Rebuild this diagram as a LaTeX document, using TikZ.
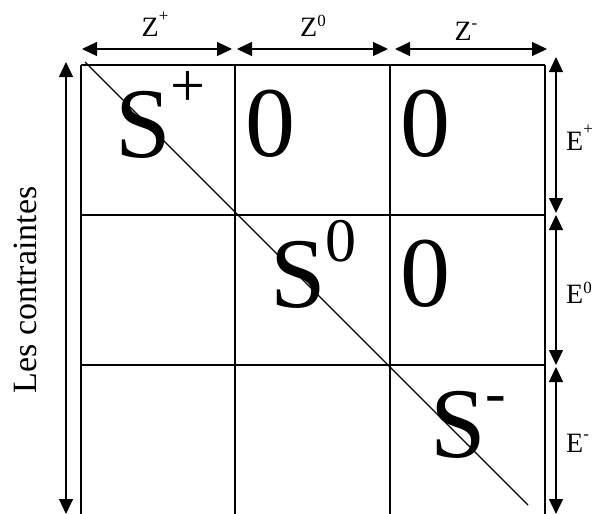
\documentclass[tikz,border=0pt]{standalone}
\usepackage{fontspec}
\setmainfont{Liberation Serif}
\usepackage{tikz}
\usetikzlibrary{arrows.meta}
\tikzset{
  gridline/.style = {line width=1.8pt, black},
  diagline/.style = {line width=1.2pt, black},
  dimarrow/.style = {{Triangle[length=15pt,width=14pt]}-{Triangle[length=15pt,width=14pt]},
                     line width=1.3pt, black},
  bigsym/.style   = {anchor=base west, inner sep=0pt, font=\fontsize{100}{100}\selectfont},
  toplbl/.style   = {anchor=base, inner sep=0pt, font=\fontsize{28}{28}\selectfont},
  sidelbl/.style  = {anchor=base west, inner sep=0pt, font=\fontsize{28}{28}\selectfont},
  axislbl/.style  = {anchor=base, inner sep=0pt, rotate=90, font=\fontsize{34}{34}\selectfont}
}
\newcommand{\bsup}[2]{\raisebox{#1}{\fontsize{62}{62}\selectfont #2}}
\newcommand{\ssup}[2]{\raisebox{#1}{\fontsize{17}{17}\selectfont #2}}

\begin{document}
\begin{tikzpicture}[x=1pt, y=-1pt]
  \useasboundingbox (0,0) rectangle (598,514);
  % Grid
  \draw[gridline] (81,65) -- (545,65);
  \draw[gridline] (81,215) -- (545,215);
  \draw[gridline] (81,365) -- (545,365);
  \draw[gridline] (81,65) -- (81,514);
  \draw[gridline] (235,65) -- (235,514);
  \draw[gridline] (390,65) -- (390,514);
  \draw[gridline] (545,65) -- (545,514);
  % Diagonal
  \coordinate (d0) at (85,62);
  \coordinate (d1) at (528,505);
  \draw[diagline] (d0) -- (d1);
  % Blocks
  \node[bigsym] (spl) at (115,157) {S\bsup{51pt}{+}};
  \node[bigsym] (z12) at (245,156) {0};
  \node[bigsym] (z13) at (400,156) {0};
  \node[bigsym] (szr) at (270,307) {S\bsup{46pt}{0}};
  \node[bigsym] (z23) at (400,306) {0};
  \node[bigsym] (smi) at (430,457) {S\bsup{44pt}{-}};
  % Top arrows
  \coordinate (t0) at (82,49);  \coordinate (t1) at (232,49);
  \coordinate (t2) at (237,49); \coordinate (t3) at (388,49);
  \coordinate (t4) at (395,49); \coordinate (t5) at (547,49);
  \draw[dimarrow] (t0) -- (t1);
  \draw[dimarrow] (t2) -- (t3);
  \draw[dimarrow] (t4) -- (t5);
  \node[toplbl] (zpl) at (155,37) {Z\ssup{16pt}{+}};
  \node[toplbl] (zzr) at (313,37) {Z\ssup{10pt}{0}};
  \node[toplbl] (zmi) at (466,41) {Z\ssup{13pt}{-}};
  % Right arrows
  \coordinate (r0) at (556,57);  \coordinate (r1) at (556,213);
  \coordinate (r2) at (556,215); \coordinate (r3) at (556,365);
  \coordinate (r4) at (556,367); \coordinate (r5) at (556,514);
  \draw[dimarrow] (r0) -- (r1);
  \draw[dimarrow] (r2) -- (r3);
  \draw[dimarrow] (r4) -- (r5);
  \node[sidelbl] (epl) at (566,150) {E\ssup{16pt}{+}};
  \node[sidelbl] (ezr) at (566,303) {E\ssup{10pt}{0}};
  \node[sidelbl] (emi) at (566,452) {E\ssup{13pt}{-}};
  % Left arrow
  \coordinate (l0) at (66,62);
  \coordinate (l1) at (66,514);
  \draw[dimarrow] (l0) -- (l1);
  \node[axislbl] (ctr) at (37,290) {Les contraintes};
\end{tikzpicture}
\end{document}
